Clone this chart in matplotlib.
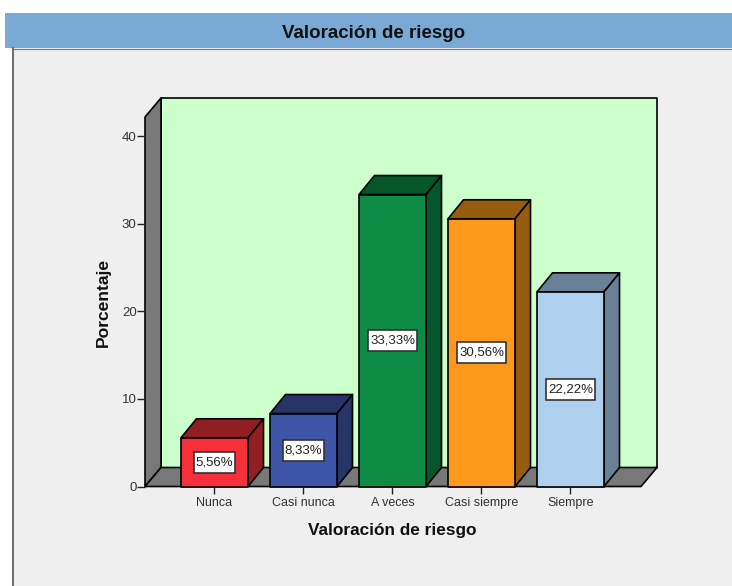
import matplotlib
matplotlib.use('Agg')
import matplotlib.pyplot as plt
from matplotlib.patches import Polygon, Rectangle
from matplotlib.lines import Line2D

categories = ['Nunca', 'Casi nunca', 'A veces', 'Casi siempre', 'Siempre']
values = [5.56, 8.33, 33.33, 30.56, 22.22]
labels = ['5,56%', '8,33%', '33,33%', '30,56%', '22,22%']
y_ticks = [0, 10, 20, 30, 40]
front_colors = ['#F5303A', '#3D56A8', '#0E8C46', '#FC981C', '#AED0EE']
side_colors = ['#8F1F22', '#263468', '#07562B', '#965C10', '#6A8096']
title = 'Valoración de riesgo'
xaxis = 'Valoración de riesgo'
yaxis = 'Porcentaje'

W, H = 732, 586
plt.rcParams['font.family'] = ['Liberation Sans', 'DejaVu Sans']

fig = plt.figure(figsize=(W / 100, H / 100), dpi=100, facecolor='white')


# pixel box (top-left origin) to figure coordinates
def fig_rect(x0, y0, x1, y1, **kw):
    fig.add_artist(Rectangle((x0 / W, 1 - y1 / H), (x1 - x0) / W, (y1 - y0) / H,
                             transform=fig.transFigure, linewidth=0, zorder=-2, **kw))


# window background and header
fig_rect(12, 48, W, H, facecolor='#EFEFEF')
fig_rect(5, 13, W, 48, facecolor='#7AA9D6')
fig.add_artist(Line2D([12.5 / W, 12.5 / W], [0, 1 - 48 / H], color='#555555', lw=1.2, zorder=-1))
fig.add_artist(Line2D([12.5 / W, 1], [1 - 48.5 / H, 1 - 48.5 / H], color='#777777', lw=0.8, zorder=-1))
fig.text(373.5 / W, 1 - 33.5 / H, title, ha='center', va='center', fontsize=13.5,
         fontweight='bold', color='#111111')

# front plane of the 3d box
left, right, bottom, top = 145, 641, 486.5, 117
ax = fig.add_axes([left / W, 1 - bottom / H, (right - left) / W, (bottom - top) / H])
px_x, px_y = 89.0, 8.76
ax.set_xlim((left - 214.5) / px_x, (right - 214.5) / px_x)
ax.set_ylim(0, (bottom - top) / px_y)
ax.patch.set_visible(False)
for s in ['top', 'right', 'left', 'bottom']:
    ax.spines[s].set_visible(False)

x0, x1 = ax.get_xlim()
y1 = ax.get_ylim()[1]
dx, dy = 16 / px_x, 19 / px_y
edge = dict(edgecolor='black', linewidth=1.2, clip_on=False, joinstyle='round')

# back wall, left wall, floor
ax.add_patch(Polygon([(x0 + dx, dy), (x1 + dx, dy), (x1 + dx, y1 + dy), (x0 + dx, y1 + dy)],
                     facecolor='#CCFFCC', zorder=1, **edge))
ax.add_patch(Polygon([(x0, 0), (x0 + dx, dy), (x0 + dx, y1 + dy), (x0, y1)],
                     facecolor='#787878', zorder=1, **edge))
ax.add_patch(Polygon([(x0, 0), (x1, 0), (x1 + dx, dy), (x0 + dx, dy)],
                     facecolor='#787878', zorder=1, **edge))

# bars
half = 33.5 / px_x
bdx, bdy = 15.5 / px_x, 19 / px_y
for i, v in enumerate(values):
    a, b = i - half, i + half
    ax.add_patch(Polygon([(a, v), (b, v), (b + bdx, v + bdy), (a + bdx, v + bdy)],
                         facecolor=side_colors[i], zorder=3, **edge))
    ax.add_patch(Polygon([(b, 0), (b + bdx, bdy), (b + bdx, v + bdy), (b, v)],
                         facecolor=side_colors[i], zorder=3, **edge))
    ax.add_patch(Polygon([(a, 0), (b, 0), (b, v), (a, v)],
                         facecolor=front_colors[i], zorder=4, **edge))
    # label box, wider than tall padding so it is drawn apart from the text
    box_w = (7.3 * len(labels[i]) + 5) / px_x
    box_h = 21 / px_y
    ax.add_patch(Rectangle((i - box_w / 2, v / 2 - box_h / 2), box_w, box_h, facecolor='white',
                           edgecolor='#333333', linewidth=1.2, zorder=5, clip_on=False))
    ax.text(i, v / 2, labels[i], ha='center', va='center', fontsize=9.5, color='#222222', zorder=6)

ax.set_xticks(range(len(categories)))
ax.set_xticklabels(categories)
ax.set_yticks(y_ticks)
ax.tick_params(axis='x', length=5, width=1, pad=2.5, labelsize=9, color='#222222', labelcolor='#333333')
ax.tick_params(axis='y', length=5.5, width=1, pad=0.5, labelsize=9.5, color='#222222', labelcolor='#333333')

fig.text(392 / W, 1 - 531 / H, xaxis, ha='center', va='center', fontsize=12.4, fontweight='bold', color='#111111')
fig.text(103 / W, 1 - 302.5 / H, yaxis, ha='center', va='center', rotation=90, fontsize=12.6, fontweight='bold', color='#111111')

fig.savefig('out.png', dpi=100)
